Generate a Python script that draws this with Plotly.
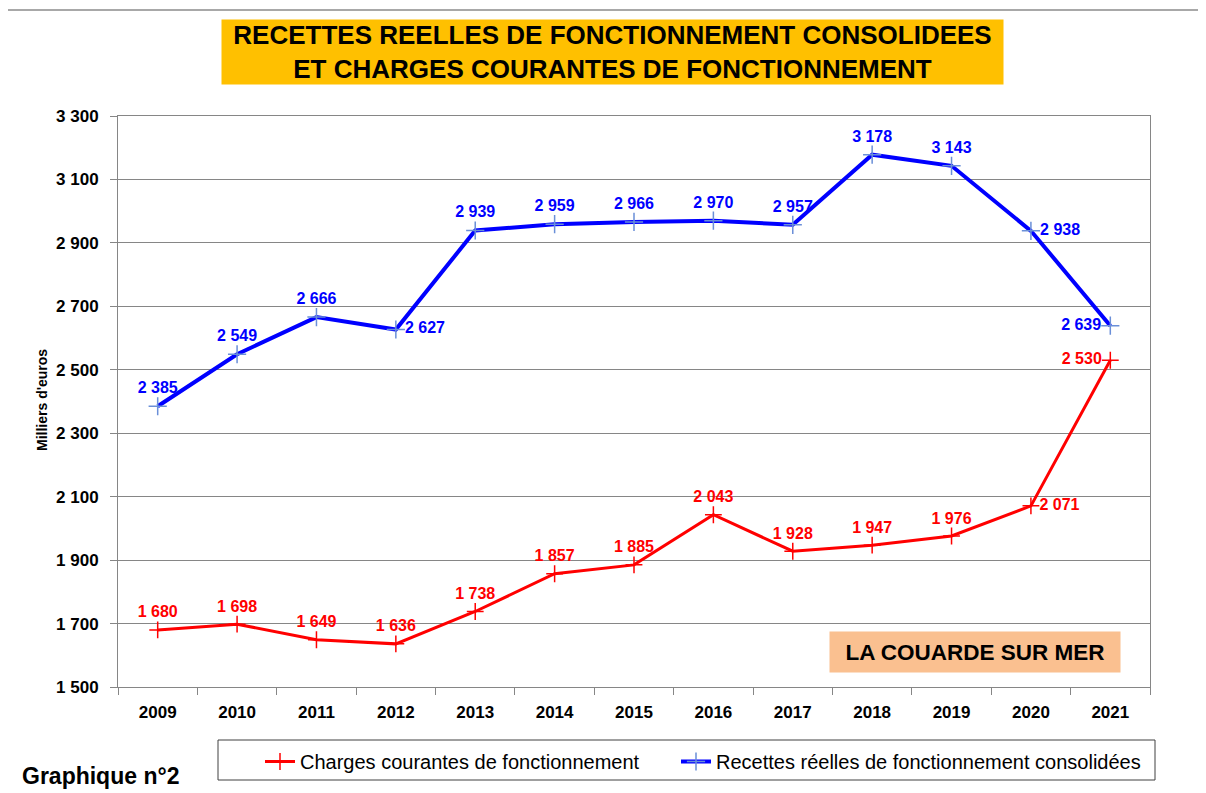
import plotly.graph_objects as go

# valeurs en milliers d'euros
annees = ["2009", "2010", "2011", "2012", "2013", "2014", "2015",
          "2016", "2017", "2018", "2019", "2020", "2021"]
recettes = [2385, 2549, 2666, 2627, 2939, 2959, 2966, 2970, 2957, 3178, 3143, 2938, 2639]
charges = [1680, 1698, 1649, 1636, 1738, 1857, 1885, 2043, 1928, 1947, 1976, 2071, 2530]

pos_recettes = ["top center"] * 3 + ["middle right"] + ["top center"] * 7 + ["middle right", "middle left"]
pos_charges = ["top center"] * 11 + ["middle right", "middle left"]


def fmt(v):
    return f"{v:,}".replace(",", " ")


# px de la page -> paper (zone de tracé 118..1150 x 116..687)
def px_x(x):
    return (x - 118) / 1032


def px_y(y):
    return (687 - y) / 571


FONT = "Liberation Sans, Arial"

fig = go.Figure()

fig.add_trace(go.Scatter(
    x=annees, y=charges, name="Charges courantes de fonctionnement",
    mode="lines+markers+text", legend="legend",
    line=dict(color="#FF0000", width=3),
    marker=dict(symbol="cross-thin", size=12, line=dict(color="#FF0000", width=1.5)),
    text=[fmt(v) for v in charges], textposition=pos_charges,
    textfont=dict(family=FONT, size=16, color="#FF0000", weight="bold"),
))
fig.add_trace(go.Scatter(
    x=annees, y=recettes, name="Recettes réelles de fonctionnement consolidées",
    mode="lines+markers+text", legend="legend2",
    line=dict(color="#0000FF", width=4),
    marker=dict(symbol="cross-thin", size=13, line=dict(color="#6A8FD8", width=1.5)),
    text=[fmt(v) for v in recettes], textposition=pos_recettes,
    textfont=dict(family=FONT, size=16, color="#0000FF", weight="bold"),
))

leg = dict(orientation="h", y=px_y(742), xanchor="left", yanchor="top",
           font=dict(size=20, color="black"), bgcolor="rgba(0,0,0,0)", itemwidth=30)

# la page ajoute 8 px de marge au body : figure réduite d'autant
fig.update_layout(
    width=1198, height=785,
    margin=dict(l=110, r=56, t=108, b=106),
    paper_bgcolor="white", plot_bgcolor="white",
    separators=", ",
    font=dict(family=FONT, color="black"),
    showlegend=True,
    legend=dict(leg, x=px_x(260)),
    legend2=dict(leg, x=px_x(676)),
)

fig.update_xaxes(
    type="category", range=[-0.5, 12.5],
    showline=True, linecolor="#868686", linewidth=1, mirror=True,
    ticks="outside", tickson="boundaries", ticklen=7, tickcolor="#868686",
    ticklabelstandoff=10,
    tickfont=dict(family=FONT, size=17, color="black", weight="bold"),
    showgrid=False,
)
fig.update_yaxes(
    range=[1500, 3300], dtick=200, tick0=1500, tickformat=",d",
    showline=True, linecolor="#868686", linewidth=1, mirror=True,
    ticks="outside", ticklen=7, tickcolor="#868686",
    ticklabelstandoff=8,
    showgrid=True, gridcolor="#868686", gridwidth=1,
    tickfont=dict(family=FONT, size=17, color="black", weight="bold"),
)

# cadre extérieur et cadre de la légende
fig.add_shape(type="rect", xref="paper", yref="paper",
              x0=px_x(7), x1=px_x(1230), y0=px_y(10), y1=px_y(830),
              line=dict(color="#8C8C8C", width=1.5), layer="below")
fig.add_shape(type="rect", xref="paper", yref="paper",
              x0=px_x(218), x1=px_x(1155), y0=px_y(740), y1=px_y(780),
              line=dict(color="#404040", width=1))

fig.add_annotation(
    xref="paper", yref="paper", x=px_x(612), y=px_y(52), xanchor="center", yanchor="middle",
    text="<b>RECETTES REELLES DE FONCTIONNEMENT CONSOLIDEES<br>ET CHARGES COURANTES DE FONCTIONNEMENT</b>",
    showarrow=False, bgcolor="#FFC000", width=781, height=64, borderpad=0,
    font=dict(family=FONT, size=26, color="black"),
)
fig.add_annotation(
    xref="paper", yref="paper", x=px_x(975), y=px_y(652), xanchor="center", yanchor="middle",
    text="<b>LA COUARDE SUR MER</b>", showarrow=False,
    bgcolor="#FAC090", width=290, height=40, borderpad=0,
    font=dict(family=FONT, size=22.5, color="black"),
)
fig.add_annotation(
    xref="paper", yref="paper", x=px_x(20), y=px_y(776), xanchor="left", yanchor="middle",
    text="<b>Graphique n°2</b>", showarrow=False,
    font=dict(family=FONT, size=23, color="black"),
)
fig.add_annotation(
    xref="paper", yref="paper", x=px_x(42), y=px_y(400), xanchor="center", yanchor="middle",
    textangle=-90, text="<b>Milliers d'euros</b>", showarrow=False,
    font=dict(family=FONT, size=14, color="black"),
)

fig.write_html("out.html")
